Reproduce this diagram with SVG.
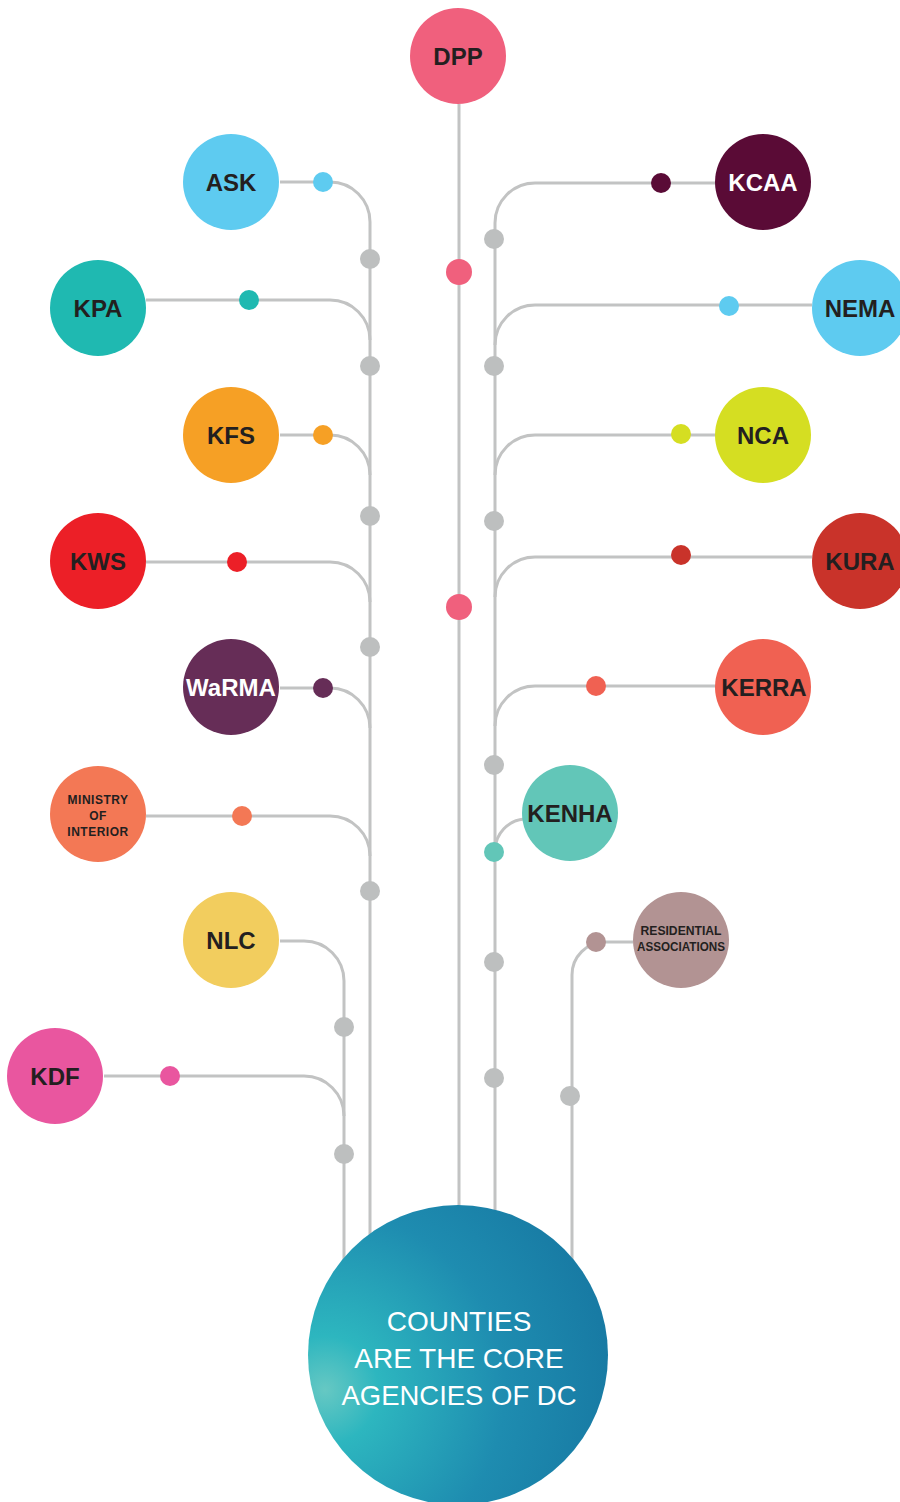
<svg xmlns="http://www.w3.org/2000/svg" width="900" height="1502" viewBox="0 0 900 1502">
<style>
.ln{fill:none;stroke:#c2c3c3;stroke-width:3}
.gd{fill:#bdbfbf}
.lb{font-family:"Liberation Sans",Arial,sans-serif;font-weight:bold;font-size:24px;fill:#231f20;text-anchor:middle}
.sm{font-family:"Liberation Sans",Arial,sans-serif;font-weight:bold;font-size:12px;fill:#231f20;text-anchor:middle}
.wh{fill:#ffffff}
.ct{font-family:"Liberation Sans",Arial,sans-serif;font-size:28px;fill:#ffffff;text-anchor:middle}
</style>
<defs>
<radialGradient id="g" gradientUnits="userSpaceOnUse" cx="325" cy="1390" r="300">
<stop offset="0" stop-color="#66c8c3"/>
<stop offset="0.18" stop-color="#2db6bf"/>
<stop offset="0.6" stop-color="#1e8cb0"/>
<stop offset="1" stop-color="#1778a2"/>
</radialGradient>
</defs>
<rect width="900" height="1502" fill="#ffffff"/>
<g id="connectors">
<path class="ln" d="M459 104V1300"/>
<path class="ln" d="M370 222V1300"/>
<path class="ln" d="M344 981V1300"/>
<path class="ln" d="M495 223V1300"/>
<path class="ln" d="M280 182H330A40 40 0 0 1 370 222"/>
<path class="ln" d="M146 300H330A40 40 0 0 1 370 340"/>
<path class="ln" d="M280 435H330A40 40 0 0 1 370 475"/>
<path class="ln" d="M146 562H330A40 40 0 0 1 370 602"/>
<path class="ln" d="M280 688H330A40 40 0 0 1 370 728"/>
<path class="ln" d="M146 816H330A40 40 0 0 1 370 856"/>
<path class="ln" d="M280 941H304A40 40 0 0 1 344 981"/>
<path class="ln" d="M104 1076H304A40 40 0 0 1 344 1116"/>
<path class="ln" d="M716 183H535A40 40 0 0 0 495 223"/>
<path class="ln" d="M812 305H535A40 40 0 0 0 495 345"/>
<path class="ln" d="M716 435H535A40 40 0 0 0 495 475"/>
<path class="ln" d="M812 557H535A40 40 0 0 0 495 597"/>
<path class="ln" d="M716 686H535A40 40 0 0 0 495 726"/>
<path class="ln" d="M495 850A32 32 0 0 1 524 819"/>
<path class="ln" d="M633 942H605A33 33 0 0 0 572 975V1300"/>
<circle class="gd" cx="370" cy="259" r="10"/>
<circle class="gd" cx="370" cy="366" r="10"/>
<circle class="gd" cx="370" cy="516" r="10"/>
<circle class="gd" cx="370" cy="647" r="10"/>
<circle class="gd" cx="370" cy="891" r="10"/>
<circle class="gd" cx="344" cy="1027" r="10"/>
<circle class="gd" cx="344" cy="1154" r="10"/>
<circle class="gd" cx="494" cy="239" r="10"/>
<circle class="gd" cx="494" cy="366" r="10"/>
<circle class="gd" cx="494" cy="521" r="10"/>
<circle class="gd" cx="494" cy="765" r="10"/>
<circle class="gd" cx="494" cy="962" r="10"/>
<circle class="gd" cx="494" cy="1078" r="10"/>
<circle class="gd" cx="570" cy="1096" r="10"/>
<circle cx="459" cy="272" r="13" fill="#f0607d"/>
<circle cx="459" cy="607" r="13" fill="#f0607d"/>
<circle cx="323" cy="182" r="10" fill="#5ecbf0"/>
<circle cx="249" cy="300" r="10" fill="#1fb9b1"/>
<circle cx="323" cy="435" r="10" fill="#f6a025"/>
<circle cx="237" cy="562" r="10" fill="#ec1f27"/>
<circle cx="323" cy="688" r="10" fill="#662d57"/>
<circle cx="242" cy="816" r="10" fill="#f37855"/>
<circle cx="170" cy="1076" r="10" fill="#e9569f"/>
<circle cx="661" cy="183" r="10" fill="#5a0b36"/>
<circle cx="729" cy="306" r="10" fill="#5ecbf0"/>
<circle cx="681" cy="434" r="10" fill="#d5de22"/>
<circle cx="681" cy="555" r="10" fill="#c9332a"/>
<circle cx="596" cy="686" r="10" fill="#f06152"/>
<circle cx="494" cy="852" r="10" fill="#62c6b8"/>
<circle cx="596" cy="942" r="10" fill="#b29393"/>
</g>
<g id="dpp"><circle cx="458" cy="56" r="48" fill="#f0607d"/><text class="lb" x="458" y="64.5">DPP</text></g>
<g id="ask"><circle cx="231" cy="182" r="48" fill="#5ecbf0"/><text class="lb" x="231" y="190.5">ASK</text></g>
<g id="kpa"><circle cx="98" cy="308" r="48" fill="#1fb9b1"/><text class="lb" x="98" y="316.5">KPA</text></g>
<g id="kfs"><circle cx="231" cy="435" r="48" fill="#f6a025"/><text class="lb" x="231" y="443.5">KFS</text></g>
<g id="kws"><circle cx="98" cy="561" r="48" fill="#ec1f27"/><text class="lb" x="98" y="569.5">KWS</text></g>
<g id="warma"><circle cx="231" cy="687" r="48" fill="#662d57"/><text class="lb wh" x="231" y="695.5">WaRMA</text></g>
<g id="ministry"><circle cx="98" cy="814" r="48" fill="#f37855"/>
<text class="sm" x="98" y="804" letter-spacing="0.5">MINISTRY</text>
<text class="sm" x="98" y="820" letter-spacing="0.5">OF</text>
<text class="sm" x="98" y="836" letter-spacing="0.5">INTERIOR</text></g>
<g id="nlc"><circle cx="231" cy="940" r="48" fill="#f2cd5e"/><text class="lb" x="231" y="948.5">NLC</text></g>
<g id="kdf"><circle cx="55" cy="1076" r="48" fill="#e9569f"/><text class="lb" x="55" y="1084.5">KDF</text></g>
<g id="kcaa"><circle cx="763" cy="182" r="48" fill="#5a0b36"/><text class="lb wh" x="763" y="190.5">KCAA</text></g>
<g id="nema"><circle cx="860" cy="308" r="48" fill="#5ecbf0"/><text class="lb" x="860" y="316.5">NEMA</text></g>
<g id="nca"><circle cx="763" cy="435" r="48" fill="#d5de22"/><text class="lb" x="763" y="443.5">NCA</text></g>
<g id="kura"><circle cx="860" cy="561" r="48" fill="#c9332a"/><text class="lb" x="860" y="569.5">KURA</text></g>
<g id="kerra"><circle cx="763" cy="687" r="48" fill="#f06152"/><text class="lb" x="764" y="695.5">KERRA</text></g>
<g id="kenha"><circle cx="570" cy="813" r="48" fill="#62c6b8"/><text class="lb" x="570" y="821.5">KENHA</text></g>
<g id="residential"><circle cx="681" cy="940" r="48" fill="#b29393"/>
<text class="sm" x="681" y="935" textLength="81" lengthAdjust="spacingAndGlyphs">RESIDENTIAL</text>
<text class="sm" x="681" y="951" textLength="88" lengthAdjust="spacingAndGlyphs">ASSOCIATIONS</text></g>
<g id="counties"><circle cx="458" cy="1355" r="150" fill="url(#g)"/>
<text class="ct" x="459" y="1331">COUNTIES</text>
<text class="ct" x="459" y="1368">ARE THE CORE</text>
<text class="ct" x="459" y="1405" textLength="235" lengthAdjust="spacingAndGlyphs">AGENCIES OF DC</text></g>
</svg>
